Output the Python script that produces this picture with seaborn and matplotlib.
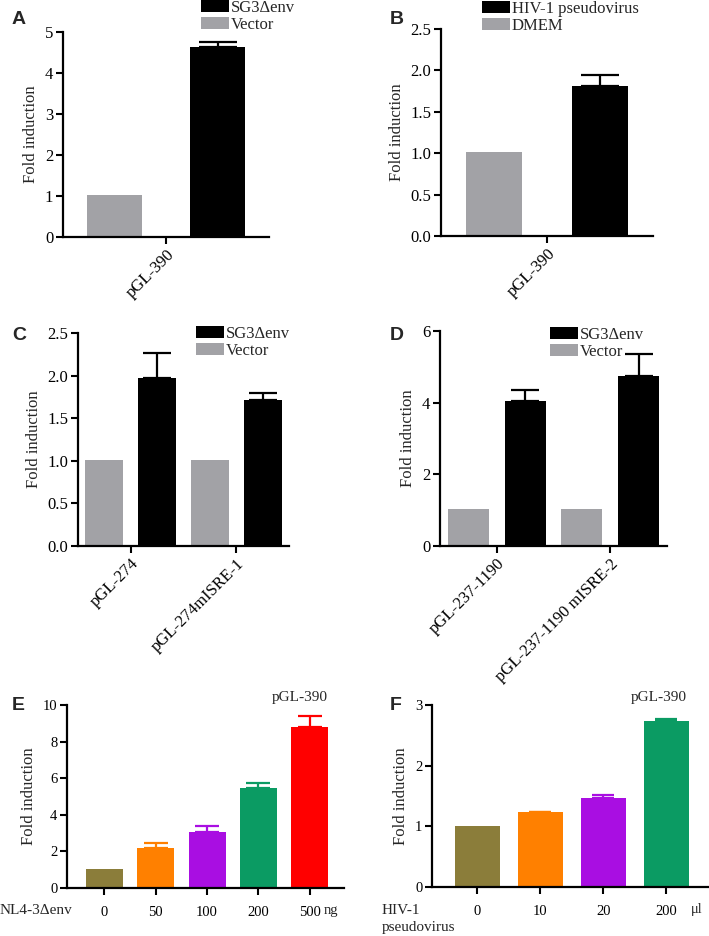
import matplotlib
matplotlib.use("Agg")
import matplotlib.pyplot as plt
import seaborn as sns
import pandas as pd
from matplotlib.patches import Patch

sns.set_theme(style="ticks")
plt.rcParams['font.family'] = ['Liberation Serif', 'DejaVu Serif']
plt.rcParams['axes.linewidth'] = 1.5

# ---------------- data ----------------
A_groups = ['pGL-390']
A_vector = [1.03]
A_sg3 = [4.63]
A_sg3_err = [0.12]

B_groups = ['pGL-390']
B_dmem = [1.01]
B_hiv = [1.81]
B_hiv_err = [0.13]

C_groups = ['pGL-274', 'pGL-274mISRE-1']
C_vector = [1.01, 1.01]
C_sg3 = [1.97, 1.71]
C_sg3_err = [0.30, 0.09]

D_groups = ['pGL-237-1190', 'pGL-237-1190 mISRE-2']
D_vector = [1.02, 1.02]
D_sg3 = [4.04, 4.74]
D_sg3_err = [0.31, 0.62]

E_doses = ['0', '50', '100', '200', '500']
E_values = [1.02, 2.17, 3.07, 5.49, 8.80]
E_err = [0.0, 0.27, 0.33, 0.23, 0.62]

F_doses = ['0', '10', '20', '200']
F_values = [1.01, 1.23, 1.47, 2.73]
F_err = [0.0, 0.01, 0.04, 0.04]

GRAY = '#A2A2A6'
BLACK = '#000000'
DOSE_COLORS = ['#8B7D3A', '#FF8000', '#A90EE2', '#0B9B63', '#FF0000']

W, H = 709, 936
fig = plt.figure(figsize=(W / 100, H / 100), dpi=100)


def add_ax(l, r, t, b):
    return fig.add_axes([l / W, 1 - b / H, (r - l) / W, (b - t) / H])


def style(ax, ylim, yticks, fmt, size=12):
    ax.set_ylim(*ylim)
    ax.set_yticks(yticks)
    ax.set_yticklabels([fmt.format(v) for v in yticks])
    for s in ['top', 'right']:
        ax.spines[s].set_visible(False)
    for s in ['left', 'bottom']:
        ax.spines[s].set_linewidth(1.6)
        ax.spines[s].set_color('black')
    ax.tick_params(axis='both', direction='out', length=5, width=1.5,
                   colors='black', labelsize=size, pad=2)
    ax.set_ylabel('Fold induction', fontsize=12, labelpad=4)
    ax.set_xlabel('')
    ax.set_facecolor('white')


def grouped(ax, groups, ctrl, treat, err, ctrl_name, treat_name, gap, capsize):
    df = pd.DataFrame({
        'group': groups * 2,
        'cond': [ctrl_name] * len(groups) + [treat_name] * len(groups),
        'value': list(ctrl) + list(treat),
    })
    sns.barplot(data=df, x='group', y='value', hue='cond',
                hue_order=[ctrl_name, treat_name],
                palette={ctrl_name: GRAY, treat_name: BLACK},
                width=1.0, gap=gap, errorbar=None, linewidth=0,
                saturation=1, legend=False, ax=ax)
    cont = ax.containers[1]
    for bar, e in zip(cont, err):
        cx = bar.get_x() + bar.get_width() / 2
        ax.errorbar(cx, bar.get_height(), yerr=[[0], [e]], fmt='none',
                    ecolor='black', elinewidth=1.6, capsize=capsize,
                    capthick=1.6, zorder=0.5)
    ax.set_xlim(-0.5, len(groups) - 0.5)
    ax.tick_params(axis='x', length=6)


def legend(ax, x, y, treat_name, ctrl_name):
    handles = [Patch(facecolor=BLACK, edgecolor='none', label=treat_name),
               Patch(facecolor=GRAY, edgecolor='none', label=ctrl_name)]
    ax.legend(handles=handles, loc='upper left',
              bbox_to_anchor=(x / W, 1 - y / H), bbox_transform=fig.transFigure,
              frameon=False, fontsize=12, handlelength=1.65, handleheight=0.7,
              handletextpad=0.15, labelspacing=0.05, borderpad=0,
              borderaxespad=0)


def panel_letter(x, y, s):
    fig.text(x / W, 1 - y / H, s, fontsize=14, fontweight='bold',
             family=['Liberation Sans', 'DejaVu Sans'], va='top', ha='left')


# ---------------- A ----------------
axA = add_ax(63, 269, 32, 237)
grouped(axA, A_groups, A_vector, A_sg3, A_sg3_err, 'Vector', 'SG3\u0394env', 0.47, 14)
style(axA, (0, 5), [0, 1, 2, 3, 4, 5], '{:.0f}')
axA.set_xticks([0])
axA.set_xticklabels(A_groups, rotation=45, ha='right', rotation_mode='anchor')
legend(axA, 201, 0, 'SG3\u0394env', 'Vector')
panel_letter(12, 11, 'A')

# ---------------- B ----------------
axB = add_ax(441, 653, 29, 236)
grouped(axB, B_groups, B_dmem, B_hiv, B_hiv_err, 'DMEM', 'HIV-1 pseudovirus', 0.47, 14)
style(axB, (0, 2.5), [0, 0.5, 1.0, 1.5, 2.0, 2.5], '{:.1f}')
axB.set_xticks([0])
axB.set_xticklabels(B_groups, rotation=45, ha='right', rotation_mode='anchor')
legend(axB, 482, 1, 'HIV-1 pseudovirus', 'DMEM')
panel_letter(390, 11, 'B')

# ---------------- C ----------------
axC = add_ax(78, 289, 333, 546)
grouped(axC, C_groups, C_vector, C_sg3, C_sg3_err, 'Vector', 'SG3\u0394env', 0.28, 10)
style(axC, (0, 2.5), [0, 0.5, 1.0, 1.5, 2.0, 2.5], '{:.1f}')
axC.set_xticks([0, 1])
axC.set_xticklabels(C_groups, rotation=45, ha='right', rotation_mode='anchor')
legend(axC, 196, 326, 'SG3\u0394env', 'Vector')
panel_letter(12, 327, 'C')

# ---------------- D ----------------
axD = add_ax(440, 667, 331, 546)
grouped(axD, D_groups, D_vector, D_sg3, D_sg3_err, 'Vector', 'SG3\u0394env', 0.28, 10)
style(axD, (0, 6), [0, 2, 4, 6], '{:.0f}')
axD.set_xticks([0, 1])
axD.set_xticklabels(D_groups, rotation=45, ha='right', rotation_mode='anchor')
legend(axD, 550, 327, 'SG3\u0394env', 'Vector')
panel_letter(390, 327, 'D')


# ---------------- E / F ----------------
def dose_panel(ax, doses, values, err, colors, capsize):
    df = pd.DataFrame({'dose': doses, 'value': values})
    sns.barplot(data=df, x='dose', y='value', hue='dose', order=doses,
                hue_order=doses, palette=colors, width=0.72, errorbar=None,
                linewidth=0, saturation=1, legend=False, ax=ax)
    for i, (v, e, c) in enumerate(zip(values, err, colors)):
        if e > 0:
            ax.errorbar(i, v, yerr=[[0], [e]], fmt='none', ecolor=c,
                        elinewidth=1.6, capsize=capsize, capthick=1.6, zorder=0.5)


axE = add_ax(67, 344, 705, 888)
dose_panel(axE, E_doses, E_values, E_err, DOSE_COLORS, 8.5)
style(axE, (0, 10), [0, 2, 4, 6, 8, 10], '{:.0f}', size=10.5)
axE.tick_params(axis='x', pad=8)
axE.set_xlim(-0.73, 4.67)
axE.text(3.8, 10.05, 'pGL-390', fontsize=11, ha='center', va='bottom')
fig.text(324 / W, 1 - 914 / H, 'ng', fontsize=10.5, ha='left', va='baseline')
fig.text(0 / W, 1 - 910 / H, 'NL4-3\u0394env', fontsize=11, ha='left', va='center')
panel_letter(12, 697, 'E')

axF = add_ax(432, 709, 705, 887)
dose_panel(axF, F_doses, F_values, F_err, DOSE_COLORS[:4], 8)
style(axF, (0, 3), [0, 1, 2, 3], '{:.0f}', size=10.5)
axF.tick_params(axis='x', pad=8)
axF.set_xlim(-0.72, 3.68)
axF.text(2.88, 3.02, 'pGL-390', fontsize=11, ha='center', va='bottom')
fig.text(691 / W, 1 - 913 / H, '\u03bcl', fontsize=10.5, ha='left', va='baseline')
fig.text(382 / W, 1 - 910 / H, 'HIV-1', fontsize=11, ha='left', va='center')
fig.text(382 / W, 1 - 927 / H, 'pseudovirus', fontsize=11, ha='left', va='center')
panel_letter(390, 697, 'F')

fig.savefig('out.png', dpi=100, facecolor='white')
